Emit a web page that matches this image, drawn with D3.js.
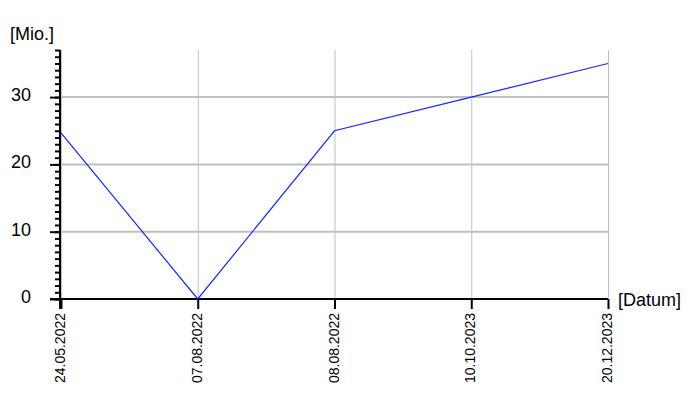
<!DOCTYPE html>
<html><head><meta charset="utf-8">
<script src="https://cdn.jsdelivr.net/npm/d3@7"></script>
<style>body{margin:0;background:#fff}svg{display:block}text{font-family:"Liberation Sans",Arial,sans-serif}</style>
</head><body>
<svg id="c" width="700" height="400"></svg>
<script>
const categories = ["24.05.2022","07.08.2022","08.08.2022","10.10.2023","20.12.2023"];
const values = [24.7, 0, 25, 30, 35];
const yTicks = [0, 10, 20, 30];
const yMinorTicks = d3.range(0, 38, 1);
const yLabel = "[Mio.]";
const xLabel = "[Datum]";

const svg = d3.select("#c");
const x = d3.scalePoint().domain(categories).range([61, 608]);
const y = d3.scaleLinear().domain([0, 37]).range([299, 50]);

// grid
svg.append("g").selectAll("line").data(categories).join("line")
  .attr("x1", d => x(d) + 0.5).attr("x2", d => x(d) + 0.5)
  .attr("y1", y(37)).attr("y2", y(0))
  .attr("stroke", "#c0c0c0").attr("stroke-width", 1);
svg.append("g").selectAll("line").data(yTicks.filter(d => d > 0)).join("line")
  .attr("x1", x.range()[0]).attr("x2", x.range()[1])
  .attr("y1", d => y(d)).attr("y2", d => y(d))
  .attr("stroke", "#c0c0c0").attr("stroke-width", 2);

// minor y ticks
svg.append("g").call(d3.axisLeft(y).tickValues(yMinorTicks).tickSize(5).tickFormat(""))
  .attr("transform", "translate(60,0)")
  .call(g => g.select(".domain").remove())
  .call(g => g.selectAll("line").attr("stroke", "#000").attr("stroke-width", 2));

// major y ticks + labels
svg.append("g").attr("transform", "translate(60,0)")
  .call(d3.axisLeft(y).tickValues(yTicks).tickSize(10).tickPadding(19))
  .call(g => g.select(".domain").remove())
  .call(g => g.selectAll("line").attr("stroke", "#000").attr("stroke-width", 2))
  .call(g => g.selectAll("text").attr("font-size", 18).attr("fill", "#000")
     .attr("dy", "3.5px")
     .attr("font-family", "'Liberation Sans',Arial,sans-serif"));

// y axis line
svg.append("line").attr("x1", 60).attr("x2", 60).attr("y1", y(37)).attr("y2", y(0) + 10)
  .attr("stroke", "#000").attr("stroke-width", 2);

// x axis
svg.append("g").attr("transform", `translate(0,${y(0)})`)
  .call(d3.axisBottom(x).tickSize(10).tickSizeOuter(0))
  .call(g => g.select(".domain").remove())
  .call(g => g.selectAll("line").attr("stroke", "#000").attr("stroke-width", 2))
  .call(g => g.selectAll("text")
     .attr("font-size", 14).attr("fill", "#000")
     .attr("font-family", "'Liberation Sans',Arial,sans-serif")
     .attr("text-anchor", "end")
     .attr("transform", "rotate(-90)")
     .attr("x", -14).attr("y", 0).attr("dy", "3.5px"));
svg.append("line").attr("x1", 50).attr("x2", x.range()[1]).attr("y1", y(0)).attr("y2", y(0))
  .attr("stroke", "#000").attr("stroke-width", 2);

// data line
const line = d3.line().x((d, i) => x(categories[i])).y(d => y(d));
svg.append("path").datum(values).attr("d", line)
  .attr("fill", "none").attr("stroke", "#1428ff").attr("stroke-width", 1.2);

// labels
svg.append("text").attr("x", 10).attr("y", 40).attr("font-size", 18).text(yLabel);
svg.append("text").attr("x", 618).attr("y", 306).attr("font-size", 18).text(xLabel);
</script>
</body></html>
